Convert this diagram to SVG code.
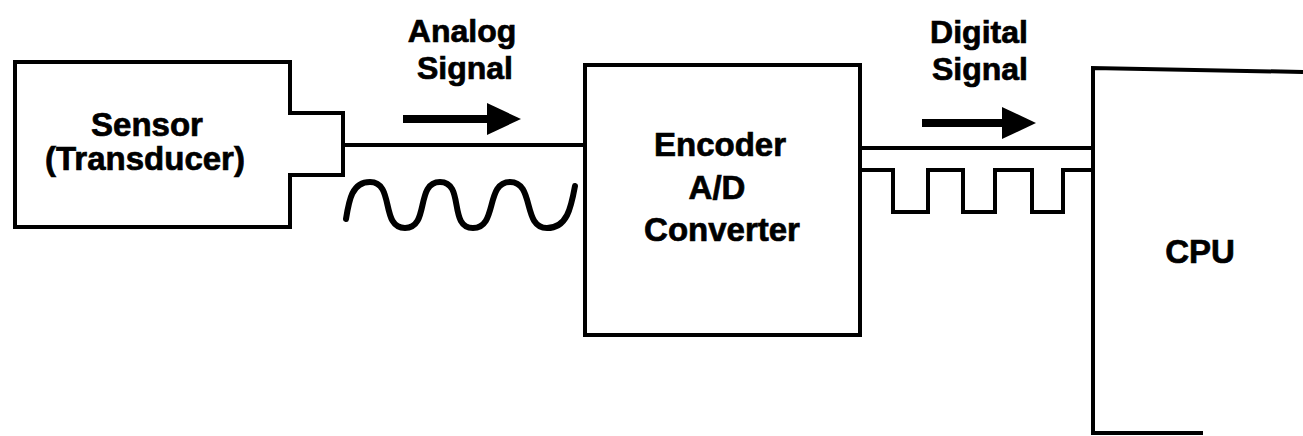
<svg xmlns="http://www.w3.org/2000/svg" width="1303" height="436" viewBox="0 0 1303 436">
  <style>
    .box { fill: none; stroke: #000; stroke-width: 4; stroke-linejoin: miter; }
    .wire { fill: none; stroke: #000; stroke-width: 4; }
    .wave { fill: none; stroke: #000; stroke-width: 6; stroke-linecap: round; stroke-linejoin: round; }
    .arrow { stroke: #000; stroke-width: 8; }
    .lbl { font-family: "Liberation Sans", Arial, sans-serif; font-weight: bold; font-size: 33px; fill: #000; stroke: #000; stroke-width: 0.7px; text-anchor: middle; }
    .sig { font-size: 32px; }
  </style>
  <defs>
    <marker id="head" markerUnits="userSpaceOnUse" viewBox="0 0 34 32" refX="2" refY="16" markerWidth="34" markerHeight="32" orient="auto">
      <path d="M0,0 L34,16 L0,32 Z" fill="#000"/>
    </marker>
  </defs>
  <rect width="1303" height="436" fill="#fff"/>

  <g id="sensor">
    <path class="box" d="M15,62 H290 V113 H343 V175 H290 V227 H15 Z"/>
    <text class="lbl" x="147" y="136">Sensor</text>
    <text class="lbl" x="145" y="170">(Transducer)</text>
  </g>

  <g id="encoder">
    <rect class="box" x="585" y="65" width="275" height="270"/>
    <text class="lbl" x="720" y="156">Encoder</text>
    <text class="lbl" x="717" y="199">A/D</text>
    <text class="lbl" x="722" y="241">Converter</text>
  </g>

  <g id="cpu">
    <path class="box" d="M1303,72 L1093,68 V433 H1203"/>
    <text class="lbl" x="1200" y="263">CPU</text>
  </g>

  <g id="analog-label">
    <text class="lbl sig" x="462" y="42">Analog</text>
    <text class="lbl sig" x="465" y="79">Signal</text>
  </g>

  <g id="digital-label">
    <text class="lbl sig" x="979" y="43">Digital</text>
    <text class="lbl sig" x="980" y="80">Signal</text>
  </g>

  <g id="connectors">
    <line class="wire" x1="343" y1="145" x2="585" y2="145"/>
    <line class="wire" x1="860" y1="148" x2="1093" y2="148"/>
    <path class="wire" d="M860,170 H893 V212 H928 V170 H963 V212 H995 V170 H1032 V212 H1063 V170 H1093"/>
    <path class="wave" d="M346,219 C349,200 352,182 370,182 C395,182 380,228 405,228 C430,228 415,182 440,182 C465,182 448,228 473,228 C498,228 485,182 510,182 C535,182 522,228 547,228 C567,228 571,208 575,186"/>
    <line class="arrow" x1="403" y1="119" x2="489" y2="119" marker-end="url(#head)"/>
    <line class="arrow" x1="922" y1="123" x2="1004" y2="123" marker-end="url(#head)"/>
  </g>
</svg>
